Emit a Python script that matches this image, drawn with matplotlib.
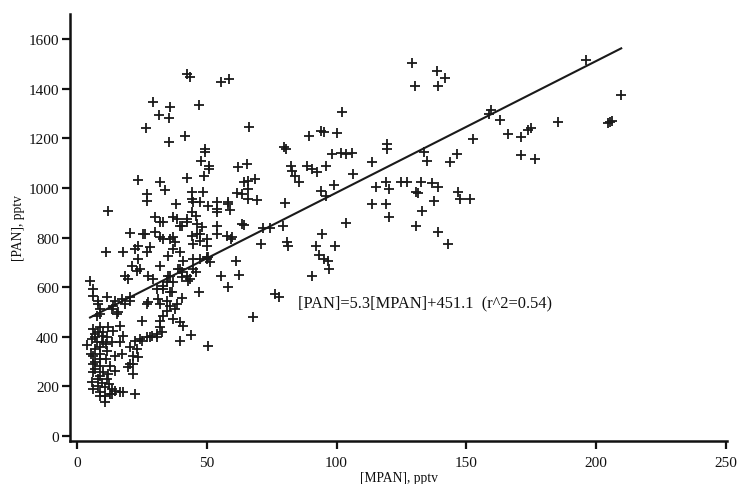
import matplotlib
matplotlib.use("Agg")
import matplotlib.pyplot as plt

# ---- data ----
mpan = [
    42.2, 43.4, 55.3, 58.4, 29.3, 35.7, 31.6, 35.4, 46.9, 26.4, 35.4, 41.5, 66.2, 49.4, 49.4, 47.6, 50.8, 50.8,
    62.1, 65.4, 68.4, 65.8, 23.6, 31.9, 33.8, 42.2, 48.8, 26.9, 26.9, 11.9, 38.0, 44.2, 44.2, 48.4, 47.2, 54.1,
    54.1, 58.0, 58.8, 61.8, 65.7, 69.5, 65.7, 79.9, 80.5, 82.6, 83.0, 85.6, 89.5, 94.1, 95.2, 100.2, 88.7, 90.6,
    92.5, 95.9, 102.2, 98.3, 101.6, 103.5, 106.0, 94.0, 96.0, 99.0, 106.5, 80.3, 79.5, 64.5, 71.5, 74.4, 94.5, 103.6,
    129.0, 138.6, 141.7, 130.2, 139.0, 196.2, 209.7, 205.4, 204.5, 206.3, 185.5, 159.7, 158.6, 162.8, 165.9, 170.9,
    173.6, 175.1, 170.9, 176.6, 152.5, 146.3, 143.6, 133.6, 134.8, 119.4, 119.4, 113.7, 115.2, 119.0, 120.2, 124.8,
    127.1, 130.6, 131.2, 132.5, 136.7, 139.0, 113.7, 119.0, 120.2, 132.9, 137.5, 130.6, 146.7, 147.5, 151.3, 139.0,
    142.9,
    84.0, 71.0, 81.0, 81.4, 92.2, 99.5, 93.3, 95.2, 96.8, 97.2, 90.6, 76.3, 78.0, 67.8, 63.4, 61.4, 62.6, 55.6,
    58.0, 46.9, 50.3, 44.1, 39.6, 39.6, 41.0, 40.3, 35.7, 34.5, 33.0, 31.9, 32.6, 30.7, 28.8, 26.9, 24.2, 22.3,
    21.5, 23.0, 20.4, 21.5, 22.3, 17.7, 14.6, 12.7, 10.8, 8.8, 25.0, 26.9, 31.1, 34.5, 18.4, 21.0, 23.0, 23.5,
    11.1, 17.7, 22.3, 26.9, 5.0, 6.1, 8.1, 11.5, 14.6, 18.4, 20.4, 8.8, 13.4, 15.7, 7.7, 31.9, 36.9, 39.6,
    42.2, 43.4, 46.0, 49.9, 29.2, 35.7,
    20.4, 26.1, 30.0, 23.4, 28.0, 24.2, 19.6, 27.3, 30.0, 31.9,
    64.5, 44.6, 44.2, 50.3, 58.0, 54.1, 63.7, 33.0, 38.4, 39.6, 42.2, 46.1, 48.0, 53.8, 54.1, 59.5, 31.9, 35.7,
    37.6, 46.1, 47.2, 44.6, 49.9, 36.9, 39.6, 34.9, 40.7, 44.6, 49.9, 51.1, 38.8, 44.6, 35.7, 40.3, 34.5, 33.0,
    6.1, 8.1, 13.8, 17.3, 20.4, 15.4, 8.8, 27.3, 31.9, 6.1, 8.1, 5.8, 7.7, 9.6, 11.5, 13.8, 16.5, 17.7,
    13.4, 16.5, 6.9, 6.1, 8.8, 11.5, 14.6, 17.3, 20.4, 6.1, 8.8, 12.7, 14.6, 6.1, 8.8, 11.5, 19.6, 5.8,
    8.1, 10.8, 13.4, 6.1, 8.8, 10.8, 13.4, 16.5, 25.0, 28.0, 30.7, 31.9, 23.4, 21.5, 3.9,
    47.2, 50.3, 42.6, 40.3, 34.9, 33.0, 30.7, 36.5, 37.6, 38.4, 36.9,
    25.3, 33.0, 36.9, 44.2, 47.2, 49.9, 57.6, 59.9, 40.3, 36.9, 42.2, 46.0,
    7.0, 9.0, 10.0, 7.0, 9.0, 11.0, 7.0, 10.0, 12.0, 8.0, 7.0, 10.0, 12.0, 9.0, 11.0, 5.5, 9.5, 12.5,
]
pan = [
    1460, 1447, 1427, 1440, 1345, 1325, 1295, 1280, 1335, 1240, 1185, 1210, 1247, 1155, 1145, 1110, 1090, 1075,
    1085, 1097, 1036, 1028, 1030, 1025, 992, 1040, 1050, 975, 948, 907, 935, 985, 955, 983, 943, 943,
    915, 943, 912, 980, 955, 952, 996, 1165, 1158, 1090, 1070, 1023, 1210, 1230, 1227, 1222, 1090, 1077,
    1063, 1090, 1307, 1137, 1141, 1137, 1140, 988, 968, 1012, 1056, 940, 848, 851, 838, 838, 814, 859,
    1503, 1472, 1443, 1411, 1411, 1516, 1375, 1265, 1262, 1268, 1265, 1314, 1298, 1274, 1218, 1205,
    1234, 1241, 1133, 1117, 1197, 1137, 1105, 1145, 1109, 1177, 1157, 1105, 1005, 1023, 996, 1023,
    1023, 983, 978, 1023, 1019, 1003, 935, 935, 882, 907, 949, 848, 983, 955, 955, 822,
    774,
    1048, 774, 782, 766, 766, 766, 730, 714, 704, 673, 645, 573, 560, 478, 975, 705, 648, 645,
    600, 581, 363, 407, 383, 459, 444, 556, 524, 504, 484, 464, 419, 399, 403, 399, 391, 383,
    323, 351, 290, 250, 169, 177, 181, 169, 137, 161, 464, 532, 552, 544, 645, 686, 665, 714,
    742, 742, 754, 742, 625, 593, 544, 560, 544, 532, 560, 512, 512, 500, 484, 686, 621, 673,
    645, 633, 661, 714, 633, 581,
    818, 814, 822, 766, 762, 673, 633, 645, 883, 863,
    1024, 943, 903, 927, 935, 903, 855, 863, 875, 847, 863, 855, 843, 847, 814, 794, 802, 794,
    782, 814, 786, 774, 766, 754, 742, 726, 706, 714, 722, 702, 673, 673, 645, 641, 621, 593,
    565, 532, 524, 552, 544, 492, 492, 540, 532, 431, 419, 391, 379, 403, 399, 423, 444, 403,
    379, 379, 351, 323, 331, 343, 323, 331, 359, 290, 282, 282, 262, 258, 242, 230, 278, 218,
    202, 198, 190, 190, 177, 161, 169, 177, 383, 399, 411, 440, 319, 290, 367,
    714, 722, 625, 661, 645, 605, 593, 581, 512, 532, 472,
    814, 794, 802, 806, 814, 794, 806, 802, 847, 883, 875, 887,
    410, 440, 380, 300, 310, 310, 270, 260, 250, 230, 400, 420, 440, 360, 370, 330, 215, 210,
]

slope = 5.3
intercept = 451.1
fit_x = [5.0, 209.7]
fit_label = "[PAN]=5.3[MPAN]+451.1  (r^2=0.54)"
x_ticks = [0, 50, 100, 150, 200, 250]
y_ticks = [0, 200, 400, 600, 800, 1000, 1200, 1400, 1600]

plt.rcParams['font.family'] = ['Liberation Serif', 'DejaVu Serif']

fig = plt.figure(figsize=(7.38, 4.85), dpi=100)
ax = fig.add_axes([0.0949, 0.0887, 0.8903, 0.8804])

ax.scatter(mpan, pan, marker='+', s=52, linewidths=1.3, color='#1a1a1a', zorder=3)
ax.plot(fit_x, [slope * v + intercept for v in fit_x], color='#1a1a1a', lw=1.5, zorder=2)

ax.text(85, 540, fit_label, fontsize=11.8, ha='left', va='center', color='#111111')

ax.set_xlim(-2.7, 250.5)
ax.set_ylim(-20, 1701)
ax.set_xticks(x_ticks)
ax.set_yticks(y_ticks)

for s in ['top', 'right']:
    ax.spines[s].set_visible(False)
for s in ['left', 'bottom']:
    ax.spines[s].set_linewidth(1.8)
    ax.spines[s].set_color('#111111')

ax.tick_params(axis='both', direction='out', length=6, width=1.6, colors='#111111', labelsize=11)
ax.tick_params(axis='x', pad=5)
ax.tick_params(axis='y', pad=2)

ax.set_xlabel("[MPAN], pptv", fontsize=9.8, color='#111111')
ax.xaxis.set_label_coords(0.5, -0.070)
ax.xaxis.label.set_va('top')
ax.set_ylabel("[PAN], pptv", fontsize=9.8, color='#111111')
ax.yaxis.set_label_coords(-0.078, 0.5)
ax.yaxis.label.set_va('center')

fig.savefig("out.png", dpi=100)
